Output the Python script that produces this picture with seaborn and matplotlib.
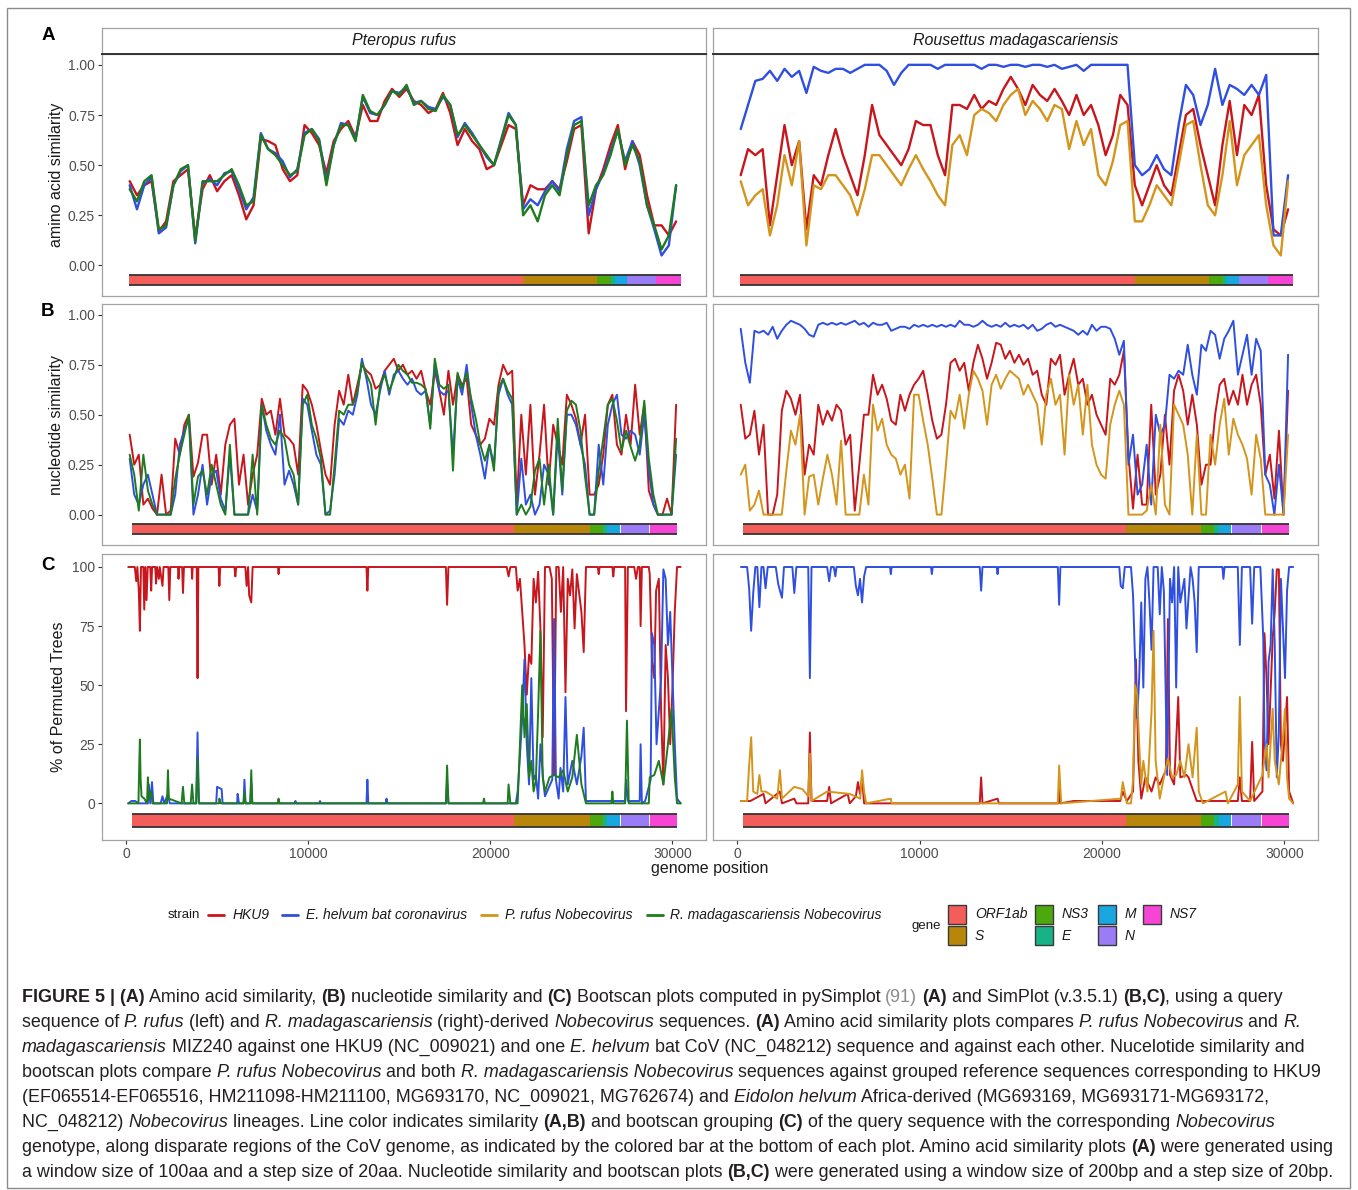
import matplotlib
matplotlib.use("Agg")
import matplotlib.pyplot as plt
from matplotlib.patches import Rectangle
from matplotlib.lines import Line2D
import pandas as pd
import seaborn as sns

sns.set_theme(style="white")
plt.rcParams['font.family'] = ['Liberation Sans', 'DejaVu Sans']

W, H = 1358, 1190

# --- categories ---
strains = ["HKU9", "E. helvum bat coronavirus", "P. rufus Nobecovirus", "R. madagascariensis Nobecovirus"]
strain_colors = ["#c8161d", "#2f4fe0", "#d4951c", "#1e7b1e"]
hosts = ["Pteropus rufus", "Rousettus madagascariensis"]

genes = ["ORF1ab", "S", "NS3", "E", "M", "N", "NS7"]
gene_colors = ["#f35e5a", "#b8860b", "#4ca80c", "#17b384", "#1aa6e0", "#9a7cf7", "#f645d4"]
# gene coordinates (amino acid plots, converted to genome position)
gene_aa_start = [170, 21800, 25840, 26630, 26870, 27530, 29110]
gene_aa_end = [21800, 25840, 26630, 26870, 27530, 29110, 30450]
# gene coordinates (nucleotide / bootscan plots)
gene_nt_start = [300, 21320, 25450, 26165, 26400, 27150, 28770]
gene_nt_end = [21320, 25450, 26165, 26400, 27095, 28720, 30250]

# --- panel A: amino acid similarity, window centres every 400 bp ---
aa_pos = list(range(200, 30201, 400))

aa_rufus_hku9 = [0.42, 0.35, 0.40, 0.42, 0.17, 0.22, 0.42, 0.45, 0.48, 0.14,
                 0.38, 0.45, 0.37, 0.42, 0.45, 0.35, 0.23, 0.30, 0.63, 0.62,
                 0.60, 0.48, 0.42, 0.45, 0.70, 0.66, 0.60, 0.46, 0.62, 0.68,
                 0.72, 0.64, 0.80, 0.72, 0.72, 0.82, 0.88, 0.84, 0.88, 0.82,
                 0.80, 0.76, 0.78, 0.86, 0.76, 0.60, 0.68, 0.62, 0.58, 0.48,
                 0.50, 0.60, 0.70, 0.68, 0.30, 0.40, 0.38, 0.38, 0.42, 0.38,
                 0.52, 0.68, 0.70, 0.16, 0.38, 0.48, 0.60, 0.70, 0.48, 0.62,
                 0.55, 0.35, 0.20, 0.20, 0.15, 0.22]
aa_rufus_helvum = [0.40, 0.28, 0.40, 0.44, 0.16, 0.19, 0.40, 0.47, 0.50, 0.11,
                   0.41, 0.43, 0.40, 0.46, 0.47, 0.38, 0.28, 0.34, 0.66, 0.58,
                   0.56, 0.52, 0.44, 0.48, 0.66, 0.68, 0.63, 0.42, 0.60, 0.71,
                   0.70, 0.63, 0.84, 0.76, 0.75, 0.80, 0.87, 0.86, 0.89, 0.81,
                   0.82, 0.79, 0.78, 0.84, 0.80, 0.64, 0.71, 0.66, 0.60, 0.54,
                   0.50, 0.63, 0.76, 0.70, 0.28, 0.33, 0.30, 0.37, 0.42, 0.37,
                   0.58, 0.72, 0.74, 0.25, 0.38, 0.46, 0.57, 0.67, 0.52, 0.62,
                   0.50, 0.30, 0.18, 0.05, 0.10, 0.40]
aa_rufus_rmad = [0.38, 0.32, 0.42, 0.45, 0.18, 0.20, 0.40, 0.48, 0.50, 0.12,
                 0.42, 0.42, 0.42, 0.45, 0.48, 0.40, 0.30, 0.32, 0.65, 0.58,
                 0.55, 0.50, 0.45, 0.47, 0.65, 0.68, 0.62, 0.40, 0.60, 0.70,
                 0.70, 0.62, 0.85, 0.77, 0.75, 0.80, 0.87, 0.85, 0.90, 0.80,
                 0.82, 0.78, 0.77, 0.85, 0.80, 0.65, 0.70, 0.65, 0.60, 0.55,
                 0.50, 0.62, 0.75, 0.70, 0.25, 0.30, 0.22, 0.35, 0.40, 0.35,
                 0.55, 0.70, 0.72, 0.30, 0.40, 0.45, 0.55, 0.68, 0.50, 0.60,
                 0.52, 0.30, 0.20, 0.08, 0.15, 0.40]

aa_rmad_hku9 = [0.45, 0.58, 0.55, 0.58, 0.20, 0.45, 0.70, 0.50, 0.62, 0.18,
                0.45, 0.40, 0.55, 0.68, 0.55, 0.45, 0.35, 0.55, 0.80, 0.65,
                0.60, 0.55, 0.50, 0.58, 0.72, 0.70, 0.70, 0.55, 0.45, 0.80,
                0.80, 0.78, 0.85, 0.78, 0.82, 0.80, 0.88, 0.94, 0.88, 0.80,
                0.90, 0.85, 0.82, 0.88, 0.82, 0.75, 0.85, 0.75, 0.80, 0.70,
                0.55, 0.65, 0.85, 0.80, 0.40, 0.30, 0.40, 0.50, 0.40, 0.35,
                0.55, 0.75, 0.78, 0.60, 0.45, 0.30, 0.60, 0.82, 0.55, 0.80,
                0.75, 0.85, 0.40, 0.18, 0.15, 0.28]
aa_rmad_helvum = [0.68, 0.80, 0.92, 0.93, 0.97, 0.92, 0.98, 0.94, 0.97, 0.86,
                  0.99, 0.97, 0.96, 0.98, 0.98, 0.96, 0.98, 1.00, 1.00, 1.00,
                  0.97, 0.90, 0.96, 1.00, 1.00, 1.00, 1.00, 0.98, 1.00, 1.00,
                  1.00, 1.00, 1.00, 0.98, 1.00, 1.00, 0.99, 1.00, 1.00, 0.99,
                  1.00, 1.00, 0.99, 1.00, 0.98, 0.99, 1.00, 0.97, 1.00, 1.00,
                  1.00, 1.00, 1.00, 1.00, 0.50, 0.45, 0.48, 0.55, 0.48, 0.45,
                  0.70, 0.90, 0.85, 0.70, 0.80, 0.98, 0.80, 0.90, 0.88, 0.85,
                  0.90, 0.85, 0.95, 0.15, 0.15, 0.45]
aa_rmad_rufus = [0.42, 0.30, 0.35, 0.38, 0.15, 0.30, 0.55, 0.40, 0.62, 0.10,
                 0.40, 0.38, 0.45, 0.45, 0.40, 0.35, 0.25, 0.38, 0.55, 0.55,
                 0.50, 0.45, 0.40, 0.48, 0.55, 0.48, 0.42, 0.35, 0.30, 0.60,
                 0.65, 0.55, 0.75, 0.78, 0.76, 0.72, 0.80, 0.85, 0.88, 0.75,
                 0.82, 0.78, 0.72, 0.80, 0.78, 0.58, 0.72, 0.60, 0.68, 0.45,
                 0.40, 0.52, 0.70, 0.72, 0.22, 0.22, 0.30, 0.40, 0.35, 0.30,
                 0.50, 0.70, 0.72, 0.50, 0.30, 0.25, 0.45, 0.72, 0.40, 0.55,
                 0.60, 0.65, 0.30, 0.10, 0.05, 0.42]

# --- panel B: nucleotide similarity, window centres every 250 bp ---
nt_pos = list(range(200, 30201, 250))

nt_rufus_hku9 = [0.40, 0.25, 0.30, 0.05, 0.08, 0.03, 0.00, 0.20, 0.00, 0.02,
                 0.38, 0.30, 0.45, 0.50, 0.19, 0.26, 0.40, 0.40, 0.15, 0.30,
                 0.10, 0.35, 0.45, 0.48, 0.15, 0.30, 0.05, 0.20, 0.30, 0.58,
                 0.50, 0.52, 0.40, 0.58, 0.40, 0.38, 0.35, 0.20, 0.65, 0.62,
                 0.55, 0.45, 0.32, 0.20, 0.15, 0.45, 0.62, 0.55, 0.70, 0.55,
                 0.65, 0.75, 0.72, 0.70, 0.63, 0.65, 0.72, 0.75, 0.78, 0.72,
                 0.75,
                 0.70, 0.72, 0.68, 0.72, 0.62, 0.55, 0.72, 0.62, 0.50, 0.72,
                 0.55, 0.70, 0.65, 0.68, 0.45, 0.40, 0.35, 0.38, 0.48, 0.45,
                 0.65, 0.75, 0.70, 0.72, 0.05, 0.50, 0.20, 0.55, 0.10, 0.30,
                 0.55, 0.15, 0.45, 0.35, 0.25, 0.60, 0.55, 0.48, 0.35, 0.50,
                 0.10, 0.10, 0.15, 0.30, 0.55, 0.60, 0.35, 0.30, 0.50, 0.35,
                 0.65, 0.40, 0.55, 0.12, 0.05, 0.00, 0.00, 0.08, 0.00, 0.55]
nt_rufus_helvum = [0.28, 0.10, 0.05, 0.15, 0.20, 0.10, 0.00, 0.00, 0.00, 0.00,
                   0.10, 0.35, 0.42, 0.48, 0.00, 0.10, 0.25, 0.05, 0.20, 0.22,
                   0.08, 0.02, 0.30, 0.00, 0.00, 0.00, 0.00, 0.10, 0.02, 0.55,
                   0.42, 0.35, 0.30, 0.50, 0.15, 0.22, 0.15, 0.05, 0.58, 0.55,
                   0.42, 0.30, 0.25, 0.00, 0.02, 0.20, 0.48, 0.45, 0.52, 0.50,
                   0.60, 0.78, 0.68, 0.55, 0.50, 0.62, 0.72, 0.60, 0.70, 0.72,
                   0.68,
                   0.65, 0.68, 0.62, 0.60, 0.62, 0.45, 0.75, 0.62, 0.60, 0.62,
                   0.30, 0.68, 0.60, 0.75, 0.55, 0.40, 0.30, 0.18, 0.35, 0.25,
                   0.60, 0.68, 0.60, 0.55, 0.00, 0.28, 0.05, 0.10, 0.00, 0.05,
                   0.25, 0.20, 0.00, 0.40, 0.10, 0.50, 0.50, 0.45, 0.35, 0.25,
                   0.00, 0.00, 0.35, 0.15, 0.45, 0.55, 0.60, 0.40, 0.38, 0.42,
                   0.40, 0.30, 0.50, 0.22, 0.05, 0.00, 0.00, 0.00, 0.00, 0.30]
nt_rufus_rmad = [0.30, 0.20, 0.02, 0.30, 0.12, 0.05, 0.00, 0.00, 0.00, 0.00,
                 0.18, 0.30, 0.40, 0.50, 0.05, 0.19, 0.22, 0.10, 0.25, 0.15,
                 0.05, 0.00, 0.35, 0.00, 0.00, 0.00, 0.00, 0.30, 0.00, 0.55,
                 0.45, 0.38, 0.35, 0.42, 0.38, 0.25, 0.20, 0.05, 0.55, 0.60,
                 0.45, 0.38, 0.28, 0.00, 0.00, 0.25, 0.52, 0.50, 0.55, 0.55,
                 0.62, 0.76, 0.70, 0.65, 0.45, 0.65, 0.70, 0.62, 0.68, 0.75,
                 0.72,
                 0.70, 0.66, 0.66, 0.65, 0.63, 0.43, 0.78, 0.65, 0.63, 0.65,
                 0.22, 0.71, 0.63, 0.71, 0.58, 0.48, 0.35, 0.27, 0.35, 0.22,
                 0.63, 0.68, 0.62, 0.58, 0.00, 0.05, 0.00, 0.04, 0.22, 0.28,
                 0.05, 0.25, 0.00, 0.48, 0.12, 0.52, 0.57, 0.55, 0.42, 0.19,
                 0.00, 0.00, 0.22, 0.38, 0.55, 0.58, 0.47, 0.32, 0.42, 0.34,
                 0.27, 0.35, 0.57, 0.28, 0.10, 0.00, 0.00, 0.00, 0.00, 0.38]

nt_rmad_hku9 = [0.55, 0.38, 0.40, 0.52, 0.30, 0.45, 0.00, 0.00, 0.10, 0.52,
                0.62, 0.58, 0.50, 0.60, 0.20, 0.35, 0.30, 0.55, 0.45, 0.52,
                0.47, 0.55, 0.52, 0.35, 0.40, 0.02, 0.25, 0.50, 0.50, 0.70,
                0.60, 0.65, 0.58, 0.47, 0.45, 0.60, 0.52, 0.60, 0.65, 0.68,
                0.72, 0.60, 0.47, 0.38, 0.40, 0.55, 0.76, 0.78, 0.72, 0.76,
                0.62, 0.76, 0.85, 0.78, 0.68, 0.76, 0.86, 0.85, 0.78, 0.82,
                0.76,
                0.80, 0.75, 0.78, 0.70, 0.72, 0.60, 0.55, 0.78, 0.75, 0.80,
                0.60, 0.70, 0.78, 0.65, 0.68, 0.55, 0.60, 0.50, 0.45, 0.40,
                0.68, 0.65, 0.70, 0.82, 0.30, 0.03, 0.30, 0.05, 0.05, 0.55,
                0.10, 0.20, 0.50, 0.25, 0.62, 0.70, 0.62, 0.45, 0.60, 0.45,
                0.15, 0.25, 0.25, 0.50, 0.65, 0.68, 0.55, 0.62, 0.55, 0.70,
                0.55, 0.65, 0.70, 0.55, 0.20, 0.30, 0.08, 0.42, 0.00, 0.62]
nt_rmad_helvum = [0.93, 0.76, 0.66, 0.92, 0.91, 0.92, 0.90, 0.94, 0.88, 0.92,
                  0.95, 0.97, 0.96, 0.95, 0.93, 0.90, 0.89, 0.95, 0.96, 0.95,
                  0.96, 0.95, 0.96, 0.95, 0.96, 0.97, 0.95, 0.96, 0.94, 0.96,
                  0.95, 0.95, 0.96, 0.92, 0.93, 0.94, 0.94, 0.93, 0.95, 0.94,
                  0.95, 0.94, 0.95, 0.94, 0.95, 0.94, 0.95, 0.94, 0.97, 0.95,
                  0.95, 0.94, 0.95, 0.97, 0.95, 0.94, 0.95, 0.94, 0.96, 0.94,
                  0.95,
                  0.94, 0.95, 0.93, 0.95, 0.92, 0.93, 0.95, 0.96, 0.94, 0.95,
                  0.94, 0.93, 0.92, 0.90, 0.92, 0.90, 0.95, 0.92, 0.94, 0.94,
                  0.93, 0.88, 0.80, 0.87, 0.25, 0.40, 0.10, 0.15, 0.35, 0.05,
                  0.50, 0.40, 0.45, 0.70, 0.68, 0.72, 0.70, 0.85, 0.70, 0.60,
                  0.85, 0.82, 0.92, 0.90, 0.78, 0.88, 0.92, 0.97, 0.70, 0.80,
                  0.90, 0.70, 0.88, 0.82, 0.20, 0.15, 0.00, 0.25, 0.00, 0.80]
nt_rmad_rufus = [0.20, 0.25, 0.02, 0.05, 0.12, 0.00, 0.00, 0.00, 0.00, 0.00,
                 0.22, 0.42, 0.35, 0.50, 0.00, 0.19, 0.20, 0.05, 0.18, 0.30,
                 0.20, 0.05, 0.37, 0.00, 0.00, 0.00, 0.00, 0.20, 0.05, 0.55,
                 0.42, 0.48, 0.35, 0.30, 0.28, 0.20, 0.25, 0.08, 0.60, 0.60,
                 0.47, 0.35, 0.18, 0.00, 0.00, 0.25, 0.52, 0.48, 0.60, 0.43,
                 0.60, 0.72, 0.68, 0.62, 0.45, 0.65, 0.70, 0.63, 0.68, 0.72,
                 0.70,
                 0.68, 0.60, 0.65, 0.60, 0.55, 0.35, 0.60, 0.68, 0.55, 0.60,
                 0.30, 0.70, 0.55, 0.65, 0.40, 0.65, 0.35, 0.25, 0.20, 0.18,
                 0.45, 0.55, 0.62, 0.55, 0.00, 0.00, 0.00, 0.00, 0.02, 0.15,
                 0.00, 0.45, 0.05, 0.00, 0.55, 0.50, 0.45, 0.30, 0.00, 0.40,
                 0.00, 0.00, 0.40, 0.25, 0.45, 0.58, 0.30, 0.48, 0.40, 0.35,
                 0.28, 0.10, 0.40, 0.28, 0.00, 0.00, 0.00, 0.00, 0.00, 0.40]

# --- panel C: bootscan, (position, % of permuted trees) breakpoints ---
bs_rufus_hku9 = [(120, 100), (480, 100), (560, 94), (620, 100), (700, 90), (760, 73), (820, 100),
                 (950, 100), (1000, 82), (1060, 100), (1125, 86), (1190, 100), (1330, 100), (1380, 90),
                 (1430, 100), (1600, 100), (1650, 93), (1700, 100), (1800, 95), (1850, 100), (2000, 92),
                 (2060, 100), (2320, 100), (2375, 86), (2430, 100), (2850, 100), (2880, 95), (2920, 100),
                 (3080, 100), (3125, 89), (3180, 100), (3600, 100), (3630, 95), (3660, 100), (3880, 100),
                 (3925, 53), (3970, 100), (5080, 100), (5125, 92), (5170, 100), (5950, 100), (6000, 96),
                 (6050, 100), (6550, 100), (6620, 92), (6700, 100), (6760, 88), (6875, 85), (6950, 100),
                 (8340, 100), (8375, 97), (8410, 100), (13200, 100), (13250, 90), (13300, 100),
                 (17560, 100), (17625, 84), (17700, 100), (20900, 100), (21000, 96), (21100, 100),
                 (21400, 100), (21500, 90), (21625, 95), (21750, 81), (21875, 67), (22000, 46),
                 (22125, 63), (22250, 59), (22375, 95), (22500, 85), (22625, 98), (22750, 74),
                 (22875, 28), (23000, 100), (23250, 100), (23375, 95), (23500, 12), (23620, 100),
                 (23750, 100), (23875, 81), (24000, 100), (24125, 47), (24250, 95), (24375, 88),
                 (24500, 99), (24625, 74), (24750, 97), (25000, 81), (25125, 64), (25250, 100),
                 (25900, 100), (25950, 97), (26000, 100), (26700, 100), (26750, 96), (26800, 100),
                 (27400, 100), (27450, 39), (27550, 100), (27900, 100), (28000, 95), (28100, 100),
                 (28200, 100), (28250, 75), (28320, 100), (28700, 100), (28750, 97), (28875, 60),
                 (29000, 53), (29100, 90), (29250, 95), (29375, 39), (29500, 8), (29625, 67),
                 (29750, 53), (29875, 25), (30000, 49), (30125, 81), (30250, 100), (30450, 100)]
bs_rufus_helvum = [(120, 0), (300, 1), (500, 1), (700, 0), (1200, 0), (1250, 8), (1330, 0), (1425, 9),
                   (1500, 0), (1900, 0), (2000, 3), (2100, 0), (2300, 4), (2400, 0), (3850, 0),
                   (3925, 30), (4000, 0), (4950, 0), (5000, 7), (5250, 6), (5300, 0), (6100, 0),
                   (6125, 4), (6200, 0), (6450, 0), (6500, 10), (6560, 0), (6820, 0), (6875, 9),
                   (6930, 0), (9250, 0), (9300, 1), (9350, 0), (10600, 0), (10650, 1), (10700, 0),
                   (13200, 0), (13250, 10), (13300, 0), (14250, 0), (14300, 2), (14350, 0), (17560, 0),
                   (17625, 9), (17700, 0), (21400, 0), (21500, 5), (21625, 20), (21750, 36), (21875, 61),
                   (22000, 25), (22125, 8), (22250, 53), (22375, 10), (22500, 12), (22625, 2),
                   (22750, 25), (22900, 10), (23000, 3), (23400, 10), (23500, 78), (23600, 10),
                   (23750, 2), (23850, 15), (24000, 5), (24125, 45), (24250, 8), (24500, 18),
                   (24750, 8), (25000, 20), (25125, 32), (25250, 1), (27400, 1), (27450, 10),
                   (27550, 1), (28200, 1), (28250, 25), (28320, 0), (28500, 1), (28800, 10),
                   (28875, 72), (29000, 67), (29125, 25), (29250, 39), (29375, 53), (29500, 99),
                   (29625, 95), (29750, 67), (29875, 81), (30000, 53), (30125, 25), (30250, 2),
                   (30450, 0)]
bs_rufus_rmad = [(120, 0), (680, 0), (730, 18), (760, 27), (800, 10), (850, 3), (1000, 2), (1150, 0),
                 (1200, 11), (1250, 2), (1375, 5), (1450, 0), (2250, 0), (2300, 14), (2350, 2),
                 (3050, 0), (3125, 7), (3200, 0), (3550, 0), (3625, 8), (3700, 0), (3850, 0),
                 (3925, 19), (4000, 0), (5100, 0), (5125, 2), (5200, 0), (6450, 0), (6500, 5),
                 (6560, 0), (6820, 0), (6875, 14), (6930, 0), (8320, 0), (8375, 2), (8420, 0),
                 (17560, 0), (17625, 16), (17700, 0), (19600, 0), (19650, 2), (19700, 0), (20950, 0),
                 (21000, 8), (21100, 0), (21500, 0), (21625, 25), (21750, 50), (21875, 28),
                 (22000, 42), (22125, 11), (22250, 18), (22375, 5), (22500, 10), (22625, 39),
                 (22750, 73), (22875, 11), (23000, 5), (23250, 11), (23500, 12), (23750, 11),
                 (24000, 14), (24250, 5), (24500, 11), (24750, 29), (25000, 8), (25250, 0),
                 (26650, 0), (26700, 5), (26750, 0), (27400, 0), (27500, 35), (27600, 0), (28700, 0),
                 (28750, 11), (29000, 12), (29250, 18), (29500, 8), (29750, 25), (29950, 40),
                 (30125, 11), (30250, 0), (30450, 0)]

bs_rmad_hku9 = [(210, 1), (727, 1), (1447, 4), (1560, 0), (2347, 5), (2460, 0), (3136, 2), (3250, 0),
                (3900, 0), (3990, 30), (4080, 1), (4935, 1), (5048, 7), (5150, 0), (6061, 4),
                (6174, 0), (6511, 3), (6624, 9), (6737, 4), (6849, 11), (6962, 0), (13300, 0),
                (13376, 11), (13450, 0), (14276, 2), (14350, 0), (17600, 0), (17652, 7), (17720, 0),
                (18440, 1), (21000, 1), (21140, 5), (21365, 1), (21703, 5), (21860, 61), (21995, 18),
                (22153, 2), (22378, 11), (22716, 5), (22941, 11), (23166, 8), (23504, 14),
                (23616, 78), (23729, 12), (23954, 8), (24179, 45), (24292, 11), (24630, 12),
                (24742, 11), (25192, 1), (27444, 1), (27556, 11), (27669, 1), (28119, 1),
                (28231, 26), (28344, 1), (28794, 5), (28906, 72), (29019, 53), (29131, 25),
                (29356, 70), (29469, 81), (29582, 99), (29694, 99), (29807, 25), (29919, 18),
                (30144, 45), (30257, 5), (30482, 0)]
bs_rmad_helvum = [(210, 100), (550, 100), (660, 91), (770, 73), (885, 89), (1000, 100), (1110, 100),
                  (1222, 83), (1335, 100), (1447, 100), (1560, 91), (1680, 100), (2122, 100),
                  (2250, 93), (2347, 90), (2460, 87), (2570, 100), (3030, 100), (3136, 89),
                  (3250, 100), (3900, 100), (3990, 53), (4080, 100), (4935, 100), (5048, 94),
                  (5150, 100), (5300, 100), (5386, 96), (5450, 100), (6400, 100), (6511, 92),
                  (6624, 88), (6737, 95), (6849, 85), (6962, 96), (7074, 100), (8380, 100),
                  (8425, 97), (8470, 100), (10630, 100), (10675, 97), (10720, 100), (13300, 100),
                  (13376, 90), (13450, 100), (14230, 100), (14276, 97), (14320, 100), (17580, 100),
                  (17652, 84), (17720, 100), (20950, 100), (21028, 92), (21140, 91), (21250, 100),
                  (21590, 100), (21703, 88), (21815, 60), (21928, 36), (22040, 53), (22153, 85),
                  (22266, 49), (22378, 95), (22491, 100), (22603, 85), (22716, 65), (22828, 100),
                  (23054, 100), (23166, 80), (23279, 100), (23391, 90), (23572, 12), (23729, 95),
                  (23842, 85), (23954, 100), (24067, 49), (24179, 100), (24292, 85), (24517, 95),
                  (24630, 74), (24855, 100), (24967, 95), (25080, 85), (25192, 64), (25305, 100),
                  (26600, 100), (26656, 95), (26720, 100), (27444, 100), (27556, 67), (27669, 100),
                  (28119, 100), (28231, 76), (28344, 100), (28681, 100), (28839, 70), (28906, 28),
                  (29019, 14), (29131, 60), (29244, 67), (29356, 99), (29469, 67), (29582, 11),
                  (29694, 30), (29807, 95), (29919, 74), (30032, 53), (30144, 90), (30257, 100),
                  (30482, 100)]
bs_rmad_rufus = [(210, 1), (550, 1), (660, 16), (772, 28), (885, 5), (1110, 4), (1222, 12), (1335, 5),
                 (1560, 5), (2200, 2), (2347, 14), (2460, 2), (3136, 7), (3586, 6), (3900, 3),
                 (3990, 21), (4080, 1), (4935, 5), (6174, 4), (6750, 2), (6849, 14), (6962, 5),
                 (7074, 0), (8425, 2), (8470, 0), (17580, 0), (17652, 16), (17765, 0), (21028, 2),
                 (21140, 9), (21365, 0), (21590, 0), (21703, 10), (21815, 50), (21928, 46),
                 (22040, 25), (22153, 8), (22266, 18), (22491, 5), (22716, 39), (22828, 73),
                 (22941, 18), (23166, 2), (23391, 11), (23616, 19), (23842, 11), (24067, 12),
                 (24292, 18), (24517, 11), (24742, 25), (24967, 11), (25192, 32), (25305, 5),
                 (25530, 0), (26768, 5), (26900, 0), (27444, 8), (27556, 45), (27669, 5), (28119, 1),
                 (28794, 12), (29019, 25), (29131, 11), (29356, 40), (29469, 18), (29694, 8),
                 (29919, 28), (30032, 40), (30144, 11), (30257, 2), (30482, 0)]

for s in [aa_rufus_hku9, aa_rufus_helvum, aa_rufus_rmad, aa_rmad_hku9, aa_rmad_helvum, aa_rmad_rufus]:
    assert len(s) == len(aa_pos), len(s)
for s in [nt_rufus_hku9, nt_rufus_helvum, nt_rufus_rmad, nt_rmad_hku9, nt_rmad_helvum, nt_rmad_rufus]:
    assert len(s) == len(nt_pos), len(s)


def grid_frame(pos, series):
    rows = []
    for name, vals in series.items():
        for p, v in zip(pos, vals):
            rows.append((p, v, name))
    return pd.DataFrame(rows, columns=["position", "value", "strain"])


def pair_frame(series):
    rows = []
    for name, pairs in series.items():
        for p, v in pairs:
            rows.append((p, v, name))
    return pd.DataFrame(rows, columns=["position", "value", "strain"])


panels = {
    (0, 0): grid_frame(aa_pos, {strains[0]: aa_rufus_hku9, strains[1]: aa_rufus_helvum, strains[3]: aa_rufus_rmad}),
    (0, 1): grid_frame(aa_pos, {strains[0]: aa_rmad_hku9, strains[1]: aa_rmad_helvum, strains[2]: aa_rmad_rufus}),
    (1, 0): grid_frame(nt_pos, {strains[0]: nt_rufus_hku9, strains[1]: nt_rufus_helvum, strains[3]: nt_rufus_rmad}),
    (1, 1): grid_frame(nt_pos, {strains[0]: nt_rmad_hku9, strains[1]: nt_rmad_helvum, strains[2]: nt_rmad_rufus}),
    (2, 0): pair_frame({strains[0]: bs_rufus_hku9, strains[1]: bs_rufus_helvum, strains[3]: bs_rufus_rmad}),
    (2, 1): pair_frame({strains[0]: bs_rmad_hku9, strains[1]: bs_rmad_helvum, strains[2]: bs_rmad_rufus}),
}

palette = dict(zip(strains, strain_colors))

fig = plt.figure(figsize=(W / 100, H / 100), dpi=100)
fig.patch.set_facecolor("white")


def px_axes(x0, y0, x1, y1):
    return fig.add_axes([x0 / W, 1 - y1 / H, (x1 - x0) / W, (y1 - y0) / H])


rows_px = [(54, 296), (304, 545), (554, 840)]
cols_px = [(102, 706), (713, 1318)]
row_ylim = [(-0.152, 1.054), (-0.152, 1.054), (-15.5, 105.5)]
row_bar = [(-0.045, -0.099), (-0.045, -0.099), (-4.6, -10.1)]
row_lw = [1.7, 1.4, 1.4]
row_yticks = [[0, 0.25, 0.5, 0.75, 1.0], [0, 0.25, 0.5, 0.75, 1.0], [0, 25, 50, 75, 100]]
row_yticklabels = [["0.00", "0.25", "0.50", "0.75", "1.00"]] * 2 + [["0", "25", "50", "75", "100"]]
xticks = [0, 10000, 20000, 30000]
tick_col = "#4d4d4d"
border_col = "#a3a3a3"

for (r, c), df in panels.items():
    x0, x1 = cols_px[c]
    y0, y1 = rows_px[r]
    ax = px_axes(x0, y0, x1, y1)
    order = [s for s in strains if s in df["strain"].unique()]
    sns.lineplot(data=df, x="position", y="value", hue="strain", hue_order=order,
                 palette=palette, estimator=None, linewidth=row_lw[r], legend=False, ax=ax)
    # gene bar
    if r == 0:
        gs, ge = gene_aa_start, gene_aa_end
    else:
        gs, ge = gene_nt_start, gene_nt_end
    top, bot = row_bar[r]
    for g, a, b, col in zip(genes, gs, ge, gene_colors):
        ax.add_patch(Rectangle((a, bot), b - a, top - bot, facecolor=col, edgecolor="none", zorder=3))
    ax.hlines([top, bot], gs[0], ge[-1], colors="#333333", linewidth=1.3, zorder=4)

    ax.set_xlim(-1320, 31840)
    ax.set_ylim(*row_ylim[r])
    ax.set_xlabel("")
    ax.set_ylabel("")
    for sp in ax.spines.values():
        sp.set_color(border_col)
        sp.set_linewidth(0.9)
    ax.set_yticks(row_yticks[r])
    ax.set_xticks(xticks)
    if c == 0:
        ax.set_yticklabels(row_yticklabels[r])
        ax.tick_params(axis="y", length=3, width=0.8, color="#333333", labelsize=10,
                       labelcolor=tick_col, pad=2, left=True)
    else:
        ax.tick_params(axis="y", left=False, labelleft=False)
    if r == 2:
        ax.set_xticklabels(["0", "10000", "20000", "30000"])
        ax.tick_params(axis="x", length=3, width=0.8, color="#333333", labelsize=10,
                       labelcolor=tick_col, pad=2, bottom=True)
    else:
        ax.tick_params(axis="x", bottom=False, labelbottom=False)
    ax.grid(False)

# facet strips
for c, host in enumerate(hosts):
    x0, x1 = cols_px[c]
    sax = px_axes(x0, 28, x1, 54)
    sax.set_xticks([])
    sax.set_yticks([])
    for sp in sax.spines.values():
        sp.set_color(border_col)
        sp.set_linewidth(0.9)
    sax.spines["bottom"].set_color("#333333")
    sax.spines["bottom"].set_linewidth(1.4)
    sax.text(0.5, 0.5, host, ha="center", va="center", fontsize=11.5, fontstyle="italic",
             color="#1a1a1a", transform=sax.transAxes)

# panel letters and axis titles
for letter, y in [("A", 36), ("B", 312), ("C", 565)]:
    fig.text(48 / W, 1 - y / H, letter, ha="center", va="center", fontsize=13.5,
             fontweight="bold", color="black")
for label, x, y in [("amino acid similarity", 57, 175), ("nucleotide similarity", 57, 425),
                    ("% of Permuted Trees", 59, 697)]:
    fig.text(x / W, 1 - y / H, label, rotation=90, ha="center", va="center", fontsize=11.5,
             color="#1a1a1a")
fig.text(710 / W, 1 - 869 / H, "genome position", ha="center", va="center", fontsize=11.5,
         color="#1a1a1a")

# strain legend
leg_y = 1 - 915 / H
fig.text(168 / W, leg_y, "strain", ha="left", va="center", fontsize=9.5, color="#1a1a1a")
for (k0, k1, tx), name, col in zip([(208, 224, 233), (282, 298, 306), (481, 497, 505), (647, 663, 670)],
                                   strains, strain_colors):
    fig.add_artist(Line2D([k0 / W, k1 / W], [leg_y, leg_y], color=col, linewidth=2,
                          transform=fig.transFigure))
    fig.text(tx / W, leg_y, name, ha="left", va="center", fontsize=10, fontstyle="italic",
             color="#1a1a1a")

# gene legend
fig.text(912 / W, 1 - 926 / H, "gene", ha="left", va="center", fontsize=9.5, color="#1a1a1a")
gene_key_cols = [948, 948, 1035, 1035, 1098, 1098, 1143]
gene_key_rows = [0, 1, 0, 1, 0, 1, 0]
for g, col, kx, kr in zip(genes, gene_colors, gene_key_cols, gene_key_rows):
    ky0 = 905 + kr * 21
    fig.add_artist(Rectangle((kx / W, 1 - (ky0 + 19) / H), 18 / W, 19 / H, facecolor=col,
                             edgecolor="#3a3a3a", linewidth=1.0, transform=fig.transFigure))
    fig.text((kx + 27) / W, 1 - (ky0 + 9.5) / H, g, ha="left", va="center", fontsize=10,
             fontstyle="italic", color="#1a1a1a")

# outer frame
fig.add_artist(Rectangle((7 / W, 1 - 1188 / H), 1343 / W, 1180 / H, fill=False,
                         edgecolor="#8a8a8a", linewidth=1.0, transform=fig.transFigure))

# caption
cap_color = "#231f20"
caption = [
    [("FIGURE 5 | (A)", "b"), (" Amino acid similarity, ", "r"), ("(B)", "b"),
     (" nucleotide similarity and ", "r"), ("(C)", "b"), (" Bootscan plots computed in pySimplot ", "r"),
     ("(91)", "g"), (" ", "r"), ("(A)", "b"), (" and SimPlot (v.3.5.1) ", "r"), ("(B,C)", "b"),
     (", using a query", "r")],
    [("sequence of ", "r"), ("P. rufus", "i"), (" (left) and ", "r"), ("R. madagascariensis", "i"),
     (" (right)-derived ", "r"), ("Nobecovirus", "i"), (" sequences. ", "r"), ("(A)", "b"),
     (" Amino acid similarity plots compares ", "r"), ("P. rufus Nobecovirus", "i"), (" and ", "r"),
     ("R.", "i")],
    [("madagascariensis", "i"), (" MIZ240 against one HKU9 (NC_009021) and one ", "r"), ("E. helvum", "i"),
     (" bat CoV (NC_048212) sequence and against each other. Nucelotide similarity and", "r")],
    [("bootscan plots compare ", "r"), ("P. rufus Nobecovirus", "i"), (" and both ", "r"),
     ("R. madagascariensis Nobecovirus", "i"),
     (" sequences against grouped reference sequences corresponding to HKU9", "r")],
    [("(EF065514-EF065516, HM211098-HM211100, MG693170, NC_009021, MG762674) and ", "r"),
     ("Eidolon helvum", "i"), (" Africa-derived (MG693169, MG693171-MG693172,", "r")],
    [("NC_048212) ", "r"), ("Nobecovirus", "i"), (" lineages. Line color indicates similarity ", "r"),
     ("(A,B)", "b"), (" and bootscan grouping ", "r"), ("(C)", "b"),
     (" of the query sequence with the corresponding ", "r"), ("Nobecovirus", "i")],
    [("genotype, along disparate regions of the CoV genome, as indicated by the colored bar at the "
      "bottom of each plot. Amino acid similarity plots ", "r"), ("(A)", "b"), (" were generated using", "r")],
    [("a window size of 100aa and a step size of 20aa. Nucleotide similarity and bootscan plots ", "r"),
     ("(B,C)", "b"), (" were generated using a window size of 200bp and a step size of 20bp.", "r")],
]
styles = {
    "r": dict(fontweight="normal", fontstyle="normal", color=cap_color),
    "b": dict(fontweight="bold", fontstyle="normal", color=cap_color),
    "i": dict(fontweight="normal", fontstyle="italic", color=cap_color),
    "g": dict(fontweight="normal", fontstyle="normal", color="#8c8c8c"),
}
cap_size = 12.9
renderer = fig.canvas.get_renderer()


def run_width(txt, st):
    t1 = fig.text(0, 0, txt + "|", fontsize=cap_size, **styles[st])
    t2 = fig.text(0, 0, "|", fontsize=cap_size, **styles[st])
    w = t1.get_window_extent(renderer).width - t2.get_window_extent(renderer).width
    t1.remove()
    t2.remove()
    return w


for i, line in enumerate(caption):
    x = 22.0
    base = 1002 + 25 * i
    for txt, st in line:
        fig.text(x / W, 1 - base / H, txt, ha="left", va="baseline", fontsize=cap_size, **styles[st])
        x += run_width(txt, st)

fig.savefig("out.png", dpi=100)
